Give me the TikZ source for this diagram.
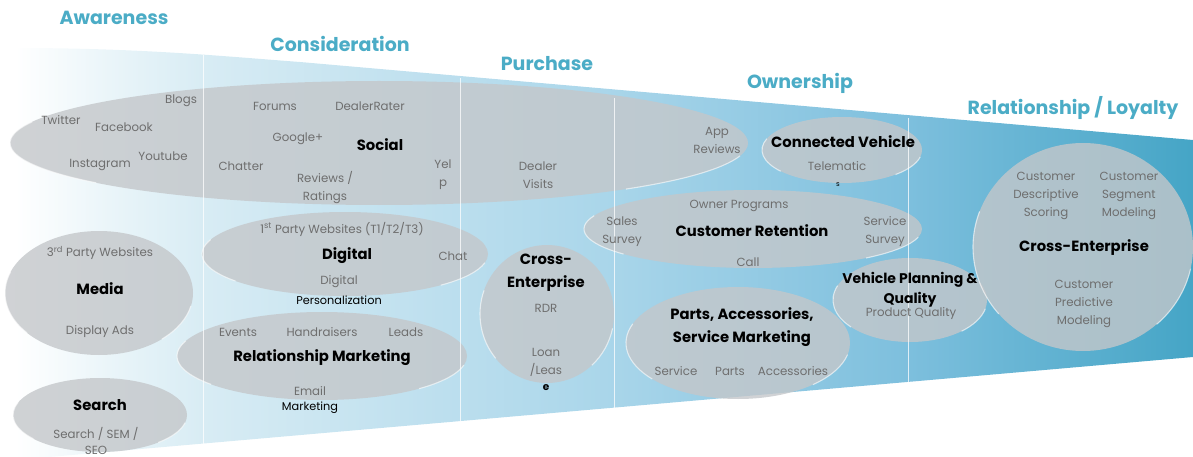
\documentclass[tikz,border=0pt]{standalone}
\usepackage{fontspec}
\setmainfont{Poppins}
\definecolor{stagecol}{HTML}{4BACC6}
\definecolor{txtgray}{HTML}{6E6E6E}
\definecolor{blobgray}{HTML}{C4C7CA}
\definecolor{fA}{HTML}{EAF5F9}
\definecolor{fB}{HTML}{D8ECF4}
\definecolor{fC}{HTML}{AAD6EA}
\definecolor{fD}{HTML}{7DBFDD}
\definecolor{fE}{HTML}{45A5C6}
\pgfdeclarehorizontalshading{funnelshade}{100bp}{color(0bp)=(white); color(25bp)=(white); color(29bp)=(fA); color(33bp)=(fB); color(50bp)=(fC); color(63bp)=(fD); color(75bp)=(fE); color(100bp)=(fE)}
\newcommand\myblob[4]{%
  \path[blob] (#1,#2) ellipse [x radius=#3, y radius=#4];
  \draw[rim] (#1,#2) ++(140:#3 and #4) arc [start angle=140, end angle=200, x radius=#3, y radius=#4];
  \draw[rim] (#1,#2) ++(12:#3 and #4) arc [start angle=12, end angle=48, x radius=#3, y radius=#4];
}
\begin{document}
\begin{tikzpicture}[x=1pt,y=-1pt,
  blob/.style={fill=blobgray, fill opacity=0.8},
  rim/.style={draw=white, draw opacity=0.6, line width=1.1pt},
  g/.style={text=txtgray, font=\fontsize{11.8}{18}\selectfont, align=center, inner sep=0pt},
  gk/.style={text=black, font=\fontsize{11.3}{12}\selectfont, align=center, inner sep=0pt},
  b/.style={text=black, font=\bfseries\fontsize{14.8}{23}\selectfont, align=center, inner sep=0pt},
  stage/.style={text=stagecol, font=\bfseries\fontsize{19}{22}\selectfont, inner sep=0pt},
  sep/.style={draw=white, draw opacity=0.75, line width=0.9pt}]
\useasboundingbox (0,0) rectangle (1193,457);
% funnel
\shade[shading=funnelshade] (15,48) .. controls (140,48) and (220,56) .. (300,62) -- (1193,140) -- (1193,357) -- (15,460) -- cycle;
% blobs
\myblob{379}{143}{369}{62}
\myblob{99}{293}{94}{62}
\myblob{100}{415}{87}{37}
\myblob{345}{254}{143}{42}
\myblob{322}{356}{145}{44}
\myblob{547}{314}{67}{69}
\myblob{753}{229}{169}{39}
\myblob{842}{150}{80}{33}
\myblob{738}{343}{112}{56}
\myblob{910}{300}{77}{42}
\myblob{1083}{247}{110}{104}
% separators
\draw[sep] (203,55) -- (203,447);
\draw[sep] (460,78) -- (460,422);
\draw[sep] (614,98) -- (614,408);
\draw[sep] (908,118) -- (908,390);
% stage titles
\node[stage] (aw) at (114,18) {Awareness};
\node[stage] (co) at (340,44) {Consideration};
\node[stage] (pu) at (547,64) {Purchase};
\node[stage] (ow) at (800,83) {Ownership};
\node[stage] (rl) at (1073,108) {Relationship / Loyalty};
% social
\node[g] (blogs) at (181,101) {Blogs};
\node[g] (twitter) at (61,120) {Twitter};
\node[g] (facebook) at (124,127) {Facebook};
\node[g] (instagram) at (100,165) {Instagram};
\node[g] (youtube) at (163,156) {Youtube};
\node[g] (forums) at (275,106) {Forums};
\node[g] (dealerrater) at (370,106) {DealerRater};
\node[g] (google) at (298,139) {Google+};
\node[b] (social) at (380,145) {Social};
\node[g] (chatter) at (241,166) {Chatter};
\node[g] (reviews) at (325,188) {Reviews /\\Ratings};
\node[g] (yelp) at (443,175) {Yel\\p};
\node[g] (dealer) at (538,175) {Dealer\\Visits};
\node[g] (app) at (717,140) {App\\Reviews};
% connected vehicle
\node[b] (cv) at (843,142) {Connected Vehicle};
\node[g] (telematic) at (837,166) {Telematic};
\node[gk, font=\fontsize{7}{8}\selectfont] (tels) at (838,185) {s};
% customer retention
\node[g] (owner) at (739,206) {Owner Programs};
\node[g] (sales) at (622,232) {Sales\\Survey};
\node[b] (cr) at (752,231) {Customer Retention};
\node[g] (service) at (885,232) {Service\\Survey};
\node[g] (call) at (748,262) {Call};
% digital
\node[g] (first) at (342,229) {1\textsuperscript{st} Party Websites (T1/T2/T3)};
\node[b] (digital) at (347,256) {Digital};
\node[g] (chat) at (453,256) {Chat};
\node[g] (digi) at (339,282) {Digital};
\node[gk] (perso) at (339,300) {Personalization};
% media
\node[g] (third) at (100,253) {3\textsuperscript{rd} Party Websites};
\node[b] (media) at (100,289) {Media};
\node[g] (display) at (100,332) {Display Ads};
% relationship marketing
\node[g] (events) at (238,332) {Events};
\node[g] (hand) at (322,332) {Handraisers};
\node[g] (leads) at (406,332) {Leads};
\node[b] (rm) at (322,358) {Relationship Marketing};
\node[g] (email) at (310,391) {Email};
\node[gk] (mkt) at (310,408) {Marketing};
% search
\node[b] (search) at (100,405) {Search};
\node[g, font=\fontsize{11.8}{16}\selectfont] (sem) at (96,441) {Search / SEM /\\SEO};
% cross-enterprise purchase
\node[b] (cep) at (546,273) {Cross-\\Enterprise};
\node[g] (rdr) at (546,308) {RDR};
\node[g] (loan) at (546,362) {Loan\\/Leas};
\node[gk, font=\bfseries\fontsize{10.5}{12}\selectfont] (le) at (546,388) {e};
% parts
\node[b] (parts) at (742,327) {Parts, Accessories,\\Service Marketing};
\node[g] (serv) at (676,371) {Service};
\node[g] (prt) at (730,371) {Parts};
\node[g] (acc) at (793,371) {Accessories};
% vehicle planning
\node[b, font=\bfseries\fontsize{14}{20}\selectfont] (vp) at (910,290) {Vehicle Planning \&\\Quality};
\node[g] (pq) at (911,314) {Product Quality};
% cross-enterprise loyalty
\node[g] (cds) at (1046,196) {Customer\\Descriptive\\Scoring};
\node[g] (csm) at (1129,196) {Customer\\Segment\\Modeling};
\node[b] (cel) at (1084,248) {Cross-Enterprise};
\node[g] (cpm) at (1084,304) {Customer\\Predictive\\Modeling};
\end{tikzpicture}
\end{document}
